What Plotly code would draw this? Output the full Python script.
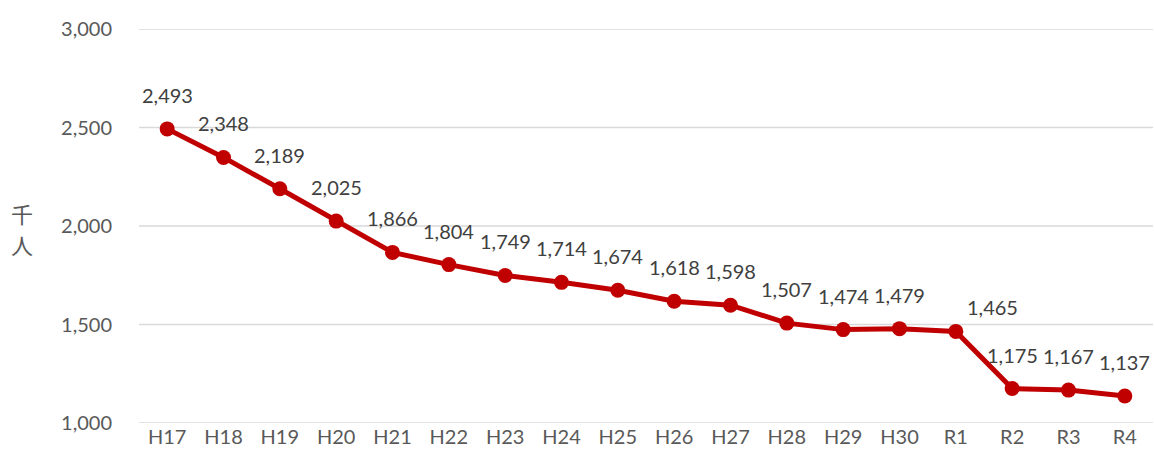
import plotly.graph_objects as go

categories = ["H17", "H18", "H19", "H20", "H21", "H22", "H23", "H24", "H25",
              "H26", "H27", "H28", "H29", "H30", "R1", "R2", "R3", "R4"]
values = [2493, 2348, 2189, 2025, 1866, 1804, 1749, 1714, 1674,
          1618, 1598, 1507, 1474, 1479, 1465, 1175, 1167, 1137]
y_ticks = [1000, 1500, 2000, 2500, 3000]
y_title_chars = ["千", "人"]

line_color = "#C00000"
grid_color = "#D9D9D9"
font_family = "Lato, 'Noto Sans CJK JP', sans-serif"

fig = go.Figure()

for t in y_ticks:
    fig.add_shape(type="line", xref="paper", yref="y", x0=0, x1=1, y0=t, y1=t,
                  line=dict(color=grid_color, width=1.5), layer="below")

fig.add_trace(go.Scatter(
    x=categories, y=values, mode="lines+markers",
    line=dict(color=line_color, width=5),
    marker=dict(color=line_color, size=15),
    hoverinfo="skip", showlegend=False, cliponaxis=False,
))

for c, v in zip(categories, values):
    xs, ys = 0, 34
    if c == "R1":
        xs, ys = 37, 24
    fig.add_annotation(x=c, y=v, text=f"{v:,}", showarrow=False,
                       xshift=xs, yshift=ys,
                       font=dict(size=20, color="#404040", family=font_family))

for ch, yy in zip(y_title_chars, [0.533, 0.455]):
    fig.add_annotation(xref="paper", yref="paper", x=-0.115, y=yy,
                       xanchor="center", yanchor="middle",
                       text=ch, showarrow=False,
                       font=dict(size=22, color="#595959",
                                 family="'Noto Sans CJK JP', sans-serif"))

fig.update_layout(
    width=1154, height=466,
    margin=dict(l=139, r=1, t=29, b=43),
    paper_bgcolor="white", plot_bgcolor="white",
    font=dict(family=font_family, color="#595959", size=20),
)
fig.update_xaxes(type="category", range=[-0.5, len(categories) - 0.5],
                 showgrid=False, zeroline=False, showline=False,
                 ticks="", tickfont=dict(size=20, color="#595959"))
fig.update_yaxes(range=[1000, 3000], tickvals=y_ticks,
                 ticktext=[f"{t:,}" for t in y_ticks],
                 showgrid=False,
                 zeroline=False, showline=False, ticks="",
                 ticklabelstandoff=26,
                 tickfont=dict(size=20, color="#595959"))

fig.write_html(
    "out.html",
    config={"displayModeBar": False, "staticPlot": True},
    post_script=("document.documentElement.style.overflow='hidden';"
                 "document.body.style.margin='0';"
                 "document.body.style.overflow='hidden';"),
)
